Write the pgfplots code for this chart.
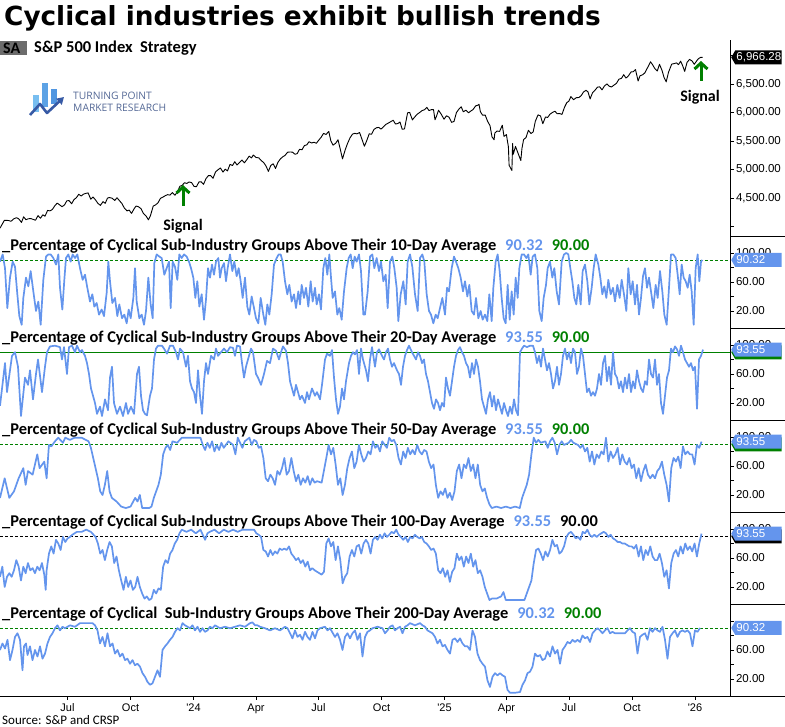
\documentclass[border=0pt]{standalone}
\usepackage{fontspec}
\setmainfont{Carlito}
\newfontfamily\titlefont{DejaVu Sans}
\newfontfamily\tickfont{Liberation Sans}
\newfontfamily\logofont{Open Sans}
\usepackage{pgfplots}
\pgfplotsset{compat=1.18}
\usetikzlibrary{arrows.meta,shapes.symbols}
\definecolor{cblue}{RGB}{100,149,237}
\definecolor{sgreen}{RGB}{0,128,0}
\definecolor{logoblue}{RGB}{85,105,150}
\definecolor{barA}{RGB}{120,190,240}
\definecolor{barB}{RGB}{80,150,225}
\definecolor{arrowblue}{RGB}{55,90,165}

\pgfplotsset{
  panel/.style={
    scale only axis, width=730pt, height=92pt, anchor=south west,
    xmin=0, axis y line*=right,
    ymin=-3.45, ymax=123.4,
    ytick={20,40,60,80,100}, yticklabels={20.00,,60.00,,100.00},
    tick align=outside, major tick length=4pt,
    yticklabel style={font=\tickfont\fontsize{11.5}{12}\selectfont, xshift=-1.5pt},
    axis line style={black, line width=0.8pt},
    every tick/.style={black, line width=0.8pt},
  },
  upper/.style={axis x line=none, xtick=\empty},
  pline/.style={cblue, line width=1.7pt, line join=round},
  gdash/.style={sgreen, line width=0.8pt, dash pattern=on 3pt off 2pt},
}
\tikzset{
  tag/.style={signal, signal to=west, signal pointer angle=120, minimum height=14pt,
    text width=44pt, inner sep=1.2pt, text=white, align=left,
    font=\tickfont\fontsize{11.5}{12}\selectfont, anchor=west},
  ptitle/.style={anchor=west, font=\fontsize{16.4}{17}\selectfont\bfseries, inner sep=0pt},
}

\begin{document}
\begin{tikzpicture}[x=1pt,y=1pt]
\path[use as bounding box] (0,0) rectangle (785,727);

% ---------------- S&P 500 panel ----------------
\begin{axis}[scale only axis, width=730pt, height=196pt, at={(0pt,491pt)}, anchor=south west,
  xmin=0, xmax=730, ymin=3833.3, ymax=7272,
  axis x line=none, xtick=\empty, axis y line*=right,
  ytick={4000,4500,5000,5500,6000,6500,7000},
  yticklabels={{},{4,500.00},{5,000.00},{5,500.00},{6,000.00},{6,500.00},{}},
  tick align=outside, major tick length=4pt,
  yticklabel style={font=\tickfont\fontsize{11.5}{12}\selectfont, xshift=-1.5pt},
  axis line style={black, line width=0.8pt},
  every tick/.style={black, line width=0.8pt}]
\addplot[black, line width=0.9pt, line join=round] table[row sep=\\]{x y\\
0 3971\\ 4.4 4109\\ 8.5 4105\\ 11 4091\\ 14 4137\\ 16.5 4154\\ 18.8 4133\\ 21.5 4071\\ 23.6 4169\\ 26 4119\\
28.4 4136\\ 31 4138\\ 33.2 4124\\ 35.5 4110\\ 38 4191\\ 40.5 4145\\ 42.8 4205\\ 45 4180\\ 47.6 4282\\ 50 4274\\
52.4 4299\\ 55 4369\\ 57.2 4410\\ 59.5 4381\\ 62 4348\\ 64.5 4378\\ 66.8 4450\\ 69 4455\\ 71.6 4399\\ 74 4472\\
76.4 4505\\ 78.7 4565\\ 81.2 4536\\ 83.5 4567\\ 86 4582\\ 88.1 4589\\ 90.8 4478\\ 93 4518\\ 95.6 4464\\ 98 4404\\
100.4 4370\\ 103 4436\\ 105.2 4406\\ 107.5 4498\\ 109.3 4508\\ 112 4497\\ 114.8 4457\\ 117 4505\\ 119.6 4450\\ 122 4402\\
124.4 4320\\ 127 4274\\ 129.2 4288\\ 131.5 4229\\ 134 4308\\ 136 4358\\ 138.1 4350\\ 141 4314\\ 143.6 4224\\ 146 4186\\
148.4 4117\\ 150.5 4193\\ 153.2 4358\\ 155.5 4378\\ 158 4415\\ 160.5 4495\\ 162.8 4514\\ 165 4538\\ 167.6 4559\\ 170 4550\\
172.4 4595\\ 175 4549\\ 177.2 4604\\ 180 4708\\ 182 4719\\ 184.5 4768\\ 186.8 4755\\ 189 4781\\ 191.6 4770\\ 194 4704\\
196.4 4697\\ 199 4783\\ 201.2 4784\\ 203.5 4739\\ 206 4840\\ 208.5 4894\\ 210.8 4891\\ 213 4845\\ 215.6 4959\\ 218 4995\\
220.4 5027\\ 223 4953\\ 225.2 5006\\ 227.5 4975\\ 230 5089\\ 232.5 5070\\ 234.8 5137\\ 237 5079\\ 239.6 5124\\ 242 5165\\
244.4 5117\\ 247 5178\\ 249.2 5234\\ 251.5 5203\\ 253.3 5254\\ 256 5211\\ 258.8 5204\\ 261 5160\\ 263.6 5123\\ 266 5061\\
268.4 4967\\ 270.8 5071\\ 273.2 5100\\ 275.5 5018\\ 278 5128\\ 280.5 5188\\ 282.8 5223\\ 285 5247\\ 287.6 5303\\ 290 5307\\
292.4 5305\\ 295 5267\\ 297.2 5278\\ 299.5 5354\\ 302 5347\\ 304.5 5421\\ 306.8 5432\\ 309 5487\\ 311.6 5465\\ 314 5478\\
316.4 5460\\ 318.5 5509\\ 321.2 5567\\ 323.5 5633\\ 326 5615\\ 328.8 5667\\ 330.8 5505\\ 333 5427\\ 335.6 5459\\ 338 5522\\
340.4 5346\\ 342.5 5186\\ 345.2 5344\\ 347.5 5455\\ 350 5554\\ 352.5 5621\\ 354.8 5634\\ 357 5625\\ 359.6 5648\\ 362 5528\\
364.4 5408\\ 366.5 5495\\ 369.2 5626\\ 371.5 5618\\ 374 5703\\ 376.5 5733\\ 378.8 5738\\ 381 5709\\ 383.6 5751\\ 386 5792\\
388.4 5815\\ 391 5842\\ 393.2 5864\\ 395.5 5797\\ 398 5808\\ 400 5833\\ 402.2 5705\\ 404.5 5712\\ 407.6 5995\\ 409.7 6001\\
412.4 5870\\ 414.5 5917\\ 417.2 5969\\ 419.5 5998\\ 422 6032\\ 424.5 6049\\ 426.8 6090\\ 429 6034\\ 431.6 6051\\ 433.5 6050\\
435 5872\\ 436.4 5930\\ 438.5 6040\\ 441.2 5971\\ 444 5882\\ 446.5 5942\\ 449 5918\\ 451.6 5827\\ 454 5843\\ 456.4 5997\\
458.5 6050\\ 461.2 6101\\ 463.3 6012\\ 466 6041\\ 468.5 5994\\ 470.8 6026\\ 473 6051\\ 475.6 6115\\ 478 6129\\ 479 6144\\
480.4 6013\\ 482.5 5955\\ 485.2 5955\\ 487.5 5849\\ 490 5770\\ 492 5572\\ 494.1 5521\\ 494.8 5639\\ 497 5675\\ 499.6 5668\\
502.3 5777\\ 504 5581\\ 506.4 5612\\ 508.4 5397\\ 509.1 5074\\ 511.9 4982\\ 512.6 5457\\ 513.3 5268\\ 515.5 5405\\ 518.1 5283\\
520.8 5158\\ 522 5375\\ 523.6 5525\\ 526 5560\\ 528.4 5687\\ 531 5631\\ 533.2 5660\\ 535.3 5844\\ 538 5958\\ 540.5 5940\\
542.8 5803\\ 545.5 5922\\ 547.6 5912\\ 550 5970\\ 552.4 6000\\ 555 6022\\ 557.2 5977\\ 559.5 5982\\ 562 5967\\ 564.5 6092\\
566.8 6173\\ 568.8 6198\\ 570.9 6279\\ 573.5 6225\\ 576.4 6260\\ 579 6263\\ 581.2 6297\\ 583.5 6359\\ 586 6389\\ 588 6362\\
590.1 6238\\ 592.5 6345\\ 594.9 6389\\ 597.5 6445\\ 599.7 6450\\ 602 6396\\ 604.5 6467\\ 607 6502\\ 609.3 6460\\ 611.5 6448\\
614.1 6482\\ 616.5 6512\\ 618.9 6584\\ 621.5 6600\\ 623.7 6664\\ 626 6604\\ 628.5 6644\\ 631 6711\\ 633.3 6716\\ 635.5 6753\\
638.1 6552\\ 640 6644\\ 642.9 6664\\ 645 6699\\ 647.7 6792\\ 650.5 6890\\ 652.5 6840\\ 654.8 6771\\ 657.3 6729\\ 659.5 6846\\
662.1 6734\\ 664 6617\\ 666.2 6538\\ 668.5 6705\\ 671.7 6849\\ 674 6857\\ 676.5 6870\\ 678.5 6840\\ 680.6 6901\\ 682.5 6827\\
684.7 6721\\ 687 6878\\ 689.5 6932\\ 692 6905\\ 694.3 6845\\ 696.5 6902\\ 698.4 6944\\ 700.5 6966\\ 702.6 6966.28\\
};
\end{axis}

% ---------------- 10-day ----------------
\begin{axis}[panel, upper, at={(0pt,399pt)}, xmax=2190]
\addplot[gdash] coordinates {(0,90) (2190,90)};
\addplot[pline] table[row sep=\\]{x y\\
0 88\\ 8 98\\ 15 79\\ 22 24\\ 30 66\\ 38 88\\ 45 81\\ 52 43\\ 58 13\\ 65 1\\ 70 38\\ 78 66\\ 85 54\\ 92 75\\ 100 47\\
108 20\\ 115 33\\ 122 1\\ 130 63\\ 138 95\\ 145 98\\ 152 98\\ 160 93\\ 168 84\\ 175 98\\ 180 52\\ 187 22\\ 193 63\\ 198 93\\
205 98\\ 212 88\\ 218 98\\ 225 93\\ 232 98\\ 240 79\\ 248 63\\ 255 70\\ 262 52\\ 270 33\\ 277 43\\ 283 26\\ 290 31\\ 297 15\\
305 22\\ 312 13\\ 320 45\\ 325 88\\ 330 61\\ 337 31\\ 345 38\\ 352 13\\ 358 29\\ 366 10\\ 373 15\\ 380 3\\ 386 22\\ 392 10\\
400 38\\ 405 79\\ 410 33\\ 418 10\\ 425 15\\ 432 1\\ 438 20\\ 445 66\\ 452 29\\ 458 10\\ 463 86\\ 470 98\\ 478 95\\ 485 93\\
493 70\\ 500 79\\ 507 88\\ 512 24\\ 518 88\\ 525 81\\ 532 63\\ 538 98\\ 545 93\\ 552 98\\ 560 95\\ 567 88\\ 573 79\\ 580 66\\
586 38\\ 592 61\\ 598 26\\ 605 43\\ 612 8\\ 618 36\\ 624 79\\ 630 66\\ 636 84\\ 642 70\\ 648 88\\ 655 93\\ 660 66\\ 665 79\\
672 86\\ 678 61\\ 683 79\\ 690 98\\ 697 75\\ 703 88\\ 710 68\\ 716 79\\ 722 61\\ 728 38\\ 735 66\\ 742 26\\ 748 15\\ 755 40\\
762 24\\ 768 10\\ 775 3\\ 782 38\\ 790 15\\ 796 1\\ 802 29\\ 808 15\\ 815 43\\ 822 84\\ 830 93\\ 836 98\\ 842 98\\ 848 88\\
855 61\\ 862 43\\ 868 56\\ 875 33\\ 882 43\\ 888 24\\ 895 47\\ 900 29\\ 905 56\\ 912 38\\ 918 52\\ 925 26\\ 932 61\\ 938 33\\
945 52\\ 950 29\\ 957 43\\ 963 22\\ 970 79\\ 976 93\\ 982 70\\ 988 98\\ 993 66\\ 998 38\\ 1005 47\\ 1012 15\\ 1018 24\\ 1025 8\\
1032 47\\ 1040 79\\ 1046 93\\ 1052 98\\ 1058 79\\ 1064 95\\ 1070 88\\ 1077 98\\ 1083 75\\ 1090 15\\
1095 15\\ 1103 47\\ 1110 95\\ 1117 98\\ 1123 79\\ 1130 93\\ 1137 75\\ 1143 88\\ 1150 61\\ 1157 70\\ 1163 24\\ 1170 88\\ 1177 95\\
1183 79\\ 1190 52\\ 1195 6\\ 1202 43\\ 1210 61\\ 1217 29\\ 1223 88\\ 1230 98\\ 1237 81\\ 1245 43\\ 1253 20\\ 1260 93\\ 1267 98\\
1273 88\\ 1280 43\\ 1287 20\\ 1293 15\\ 1300 3\\ 1307 15\\ 1313 10\\ 1320 24\\ 1327 38\\ 1335 15\\ 1341 52\\ 1347 47\\ 1355 79\\
1362 95\\ 1368 88\\ 1375 79\\ 1382 66\\ 1389 47\\ 1395 61\\ 1402 40\\ 1408 56\\ 1415 20\\ 1422 15\\ 1428 38\\ 1435 10\\ 1442 20\\
1448 8\\ 1455 15\\ 1462 6\\ 1468 43\\ 1475 6\\ 1480 52\\ 1487 88\\ 1493 98\\ 1499 75\\ 1505 38\\ 1511 10\\ 1517 3\\ 1523 56\\
1529 8\\ 1535 47\\ 1541 15\\ 1547 66\\ 1553 38\\ 1558 79\\ 1565 98\\ 1572 98\\ 1579 93\\ 1585 98\\ 1592 70\\ 1598 95\\ 1605 98\\
1612 79\\ 1618 20\\ 1625 6\\ 1631 38\\ 1638 56\\ 1643 79\\ 1650 88\\ 1657 66\\ 1663 79\\ 1670 47\\ 1677 29\\ 1685 88\\ 1692 98\\
1699 100\\ 1705 98\\ 1711 79\\ 1717 61\\ 1723 38\\ 1729 29\\ 1735 56\\ 1742 29\\ 1748 75\\ 1755 84\\ 1762 61\\ 1768 29\\ 1775 52\\
1781 79\\ 1787 98\\ 1795 84\\ 1801 66\\ 1807 43\\ 1813 54\\ 1819 38\\ 1825 63\\ 1832 43\\ 1839 52\\ 1845 33\\ 1852 56\\ 1859 38\\
1865 63\\ 1872 43\\ 1879 20\\ 1885 79\\ 1892 43\\ 1898 61\\ 1905 29\\ 1911 56\\ 1917 15\\ 1923 38\\ 1929 68\\ 1935 79\\ 1941 52\\
1947 66\\ 1953 47\\ 1960 24\\ 1967 56\\ 1973 38\\ 1980 75\\ 1987 47\\ 1993 15\\ 2000 1\\ 2007 52\\ 2013 98\\ 2020 98\\ 2027 93\\
2033 70\\ 2039 43\\ 2045 84\\ 2051 66\\ 2057 61\\ 2063 52\\ 2069 70\\ 2075 47\\ 2081 1\\ 2087 79\\ 2093 98\\ 2098 61\\ 2103 88\\
2107 90.32\\
};
\end{axis}

% ---------------- 20-day ----------------
\begin{axis}[panel, upper, at={(0pt,307pt)}, xmax=730]
\addplot[sgreen, line width=0.9pt] coordinates {(0,90) (730,90)};
\addplot[pline] table[row sep=\\]{x y\\
0 16\\ 5 75\\ 7 35\\ 12 85\\ 15 90\\ 18 70\\ 21 2\\ 25 55\\ 28 45\\ 30 65\\ 33 25\\ 36 60\\ 38 80\\ 42 35\\ 45 70\\ 47 90\\
50 98\\ 55 99\\ 60 97\\ 62 80\\ 64 97\\ 67 60\\ 69 97\\ 72 99\\ 75 90\\ 77 99\\ 80 90\\ 82 93\\ 85 85\\ 87 75\\ 89 60\\ 91 40\\
93 30\\ 95 20\\ 97 5\\ 100 15\\ 102 2\\ 105 25\\ 108 10\\ 110 55\\ 112 70\\ 114 20\\ 117 5\\ 120 15\\ 123 2\\ 126 20\\ 128 5\\
131 15\\ 134 5\\ 137 60\\ 139 70\\ 141 30\\ 143 10\\ 145 5\\ 147 3\\ 150 30\\ 152 40\\ 154 80\\ 156 95\\ 158 99\\ 162 99\\
164 95\\ 167 88\\ 170 99\\ 173 99\\ 176 90\\ 178 80\\ 180 95\\ 183 90\\ 186 70\\ 188 85\\ 190 50\\ 192 40\\ 194 35\\ 196 20\\
198 65\\ 200 30\\ 202 5\\ 204 50\\ 206 75\\ 208 60\\ 211 85\\ 214 80\\ 216 95\\ 218 85\\ 221 90\\ 224 95\\ 227 90\\ 230 97\\
233 96\\ 235 85\\ 237 99\\ 240 98\\ 242 75\\ 244 55\\ 246 70\\ 248 80\\ 251 95\\ 253 90\\ 256 60\\ 258 55\\ 261 45\\ 264 60\\
267 78\\ 270 75\\ 273 95\\ 276 92\\ 279 80\\ 281 90\\ 283 98\\ 286 92\\ 288 75\\ 290 50\\ 292 40\\ 294 30\\ 296 45\\ 298 35\\
300 25\\ 302 30\\ 305 20\\ 307 35\\ 309 25\\ 312 40\\ 315 30\\ 317 35\\ 320 25\\ 322 45\\ 325 80\\ 327 88\\ 330 85\\ 332 93\\
334 55\\ 336 25\\ 338 5\\ 340 15\\ 342 40\\ 344 25\\ 346 50\\ 349 75\\ 351 85\\ 353 90\\ 355 87\\ 357 93\\ 359 60\\ 361 95\\
363 80\\ 366 65\\ 368 50\\ 370 80\\ 372 97\\ 375 70\\ 377 90\\ 379 94\\ 382 85\\ 384 80\\ 386 90\\ 388 95\\ 390 80\\ 392 70\\
394 75\\ 397 65\\ 399 60\\ 401 45\\ 403 70\\ 405 85\\ 407 93\\ 409 99\\ 412 90\\ 414 85\\ 416 80\\ 418 90\\ 420 85\\ 422 75\\
424 80\\ 426 60\\ 428 50\\ 430 35\\ 432 20\\ 434 12\\ 436 25\\ 438 20\\ 440 10\\ 442 20\\ 444 15\\ 446 55\\ 448 40\\ 450 30\\
452 50\\ 454 70\\ 456 85\\ 458 93\\ 460 97\\ 462 90\\ 464 85\\ 466 75\\ 468 70\\ 470 55\\ 472 75\\ 474 60\\ 476 80\\ 478 70\\
480 50\\ 482 25\\ 484 15\\ 486 5\\ 488 25\\ 490 35\\ 492 15\\ 494 30\\ 496 10\\ 498 25\\ 500 15\\ 502 5\\ 504 20\\ 506 10\\
508 2\\ 510 15\\ 512 5\\ 514 25\\ 516 10\\ 518 3\\ 520 90\\ 522 95\\ 524 99\\ 527 97\\ 530 99\\ 533 99\\ 535 90\\ 537 75\\
539 85\\ 541 70\\ 543 95\\ 545 80\\ 547 65\\ 549 75\\ 551 60\\ 553 40\\ 555 50\\ 557 70\\ 559 45\\ 561 60\\ 563 85\\ 565 95\\
567 80\\ 569 90\\ 571 75\\ 573 95\\ 575 90\\ 577 60\\ 579 70\\ 581 95\\ 583 85\\ 585 60\\ 587 35\\ 589 40\\ 591 30\\ 593 35\\
595 30\\ 597 40\\ 599 60\\ 601 45\\ 603 75\\ 605 85\\ 607 50\\ 609 70\\ 611 45\\ 613 90\\ 615 60\\ 617 55\\ 619 40\\ 621 50\\
623 35\\ 625 55\\ 627 40\\ 629 60\\ 631 35\\ 633 50\\ 635 40\\ 637 65\\ 639 50\\ 641 40\\ 643 35\\ 645 50\\ 647 45\\ 649 80\\
651 60\\ 653 55\\ 655 80\\ 657 45\\ 659 60\\ 661 20\\ 663 5\\ 665 30\\ 667 55\\ 669 65\\ 671 95\\ 673 90\\ 675 98\\ 677 94\\
679 85\\ 681 99\\ 683 90\\ 685 80\\ 687 75\\ 689 70\\ 691 75\\ 693 65\\ 695 70\\ 697 12\\ 699 80\\ 701 85\\ 703 93.55\\
};
\end{axis}

% ---------------- 50-day ----------------
\begin{axis}[panel, upper, at={(0pt,215pt)}, xmax=1566]
\addplot[gdash] coordinates {(0,90) (1566,90)};
\addplot[pline] table[row sep=\\]{x y\\
0 16\\ 10 43\\ 20 16\\ 30 25\\ 40 43\\ 50 57\\ 55 34\\ 60 53\\ 70 48\\ 80 76\\ 85 57\\ 95 66\\ 100 43\\ 105 89\\ 110 87\\
118 94\\ 125 99\\ 135 92\\ 140 99\\ 150 96\\ 160 99\\ 175 99\\ 190 94\\ 195 85\\ 200 71\\ 210 43\\ 215 25\\ 220 20\\ 225 34\\
230 53\\ 235 25\\ 240 16\\ 250 11\\ 260 4\\ 270 2\\ 280 4\\ 290 16\\ 295 11\\ 300 20\\ 305 2\\ 320 2\\ 325 4\\ 330 16\\ 335 25\\
340 34\\ 345 48\\ 350 76\\ 355 85\\ 360 89\\ 365 82\\ 370 94\\ 380 92\\ 390 99\\ 400 99\\ 420 99\\ 430 99\\ 435 89\\ 440 82\\
445 92\\ 450 85\\ 455 94\\ 460 80\\ 465 89\\ 470 82\\ 475 92\\ 480 85\\ 490 94\\ 500 89\\ 505 76\\ 510 99\\ 520 85\\ 525 94\\
535 99\\ 540 89\\ 545 96\\ 550 94\\ 555 85\\ 560 87\\ 565 71\\ 570 43\\ 575 39\\ 580 48\\ 585 43\\ 590 34\\ 595 53\\ 600 48\\
605 57\\ 610 71\\ 615 48\\ 620 53\\ 625 71\\ 630 53\\ 635 39\\ 640 48\\ 645 34\\ 650 43\\ 655 37\\ 660 46\\ 665 34\\ 670 43\\
675 37\\ 680 39\\ 690 37\\ 700 71\\ 705 89\\ 710 76\\ 715 85\\ 720 62\\ 725 34\\ 730 43\\ 735 20\\ 740 34\\ 745 57\\ 750 71\\
755 80\\ 760 57\\ 765 66\\ 770 89\\ 775 76\\ 780 66\\ 785 71\\ 790 80\\ 795 76\\ 800 94\\ 805 85\\ 810 89\\ 815 80\\ 820 94\\
830 85\\ 835 99\\ 840 94\\ 845 96\\ 850 89\\ 855 71\\ 860 62\\ 865 80\\ 870 71\\ 875 85\\ 880 76\\ 885 82\\ 890 76\\ 895 89\\
900 80\\ 905 76\\ 910 82\\ 915 80\\ 920 66\\ 925 57\\ 930 62\\ 935 34\\ 940 16\\ 945 25\\ 950 20\\ 955 29\\ 960 16\\ 965 23\\
970 13\\ 975 25\\ 980 53\\ 985 62\\ 990 43\\ 995 62\\ 1000 57\\ 1005 71\\ 1010 53\\ 1015 62\\ 1020 43\\ 1025 62\\ 1030 34\\
1035 25\\ 1040 29\\ 1045 16\\ 1050 7\\ 1055 2\\ 1065 4\\ 1075 2\\ 1085 4\\ 1095 2\\ 1105 4\\ 1115 2\\ 1120 16\\ 1125 25\\
1130 34\\ 1135 48\\ 1140 76\\ 1145 99\\ 1150 92\\ 1155 96\\ 1160 92\\ 1170 94\\ 1175 85\\ 1180 94\\ 1185 99\\ 1190 92\\
1195 76\\ 1200 89\\ 1205 94\\ 1210 89\\ 1220 92\\ 1225 96\\ 1230 92\\ 1240 89\\ 1245 85\\ 1250 89\\ 1255 80\\ 1260 85\\
1265 66\\ 1270 80\\ 1275 62\\ 1280 76\\ 1285 71\\ 1290 80\\ 1295 76\\ 1300 99\\ 1305 66\\ 1310 80\\ 1315 71\\ 1320 76\\
1325 85\\ 1330 62\\ 1335 76\\ 1340 66\\ 1345 62\\ 1350 71\\ 1355 57\\ 1360 62\\ 1365 43\\ 1370 57\\ 1375 39\\ 1380 53\\
1385 62\\ 1390 48\\ 1395 43\\ 1400 48\\ 1405 43\\ 1410 53\\ 1415 57\\ 1420 66\\ 1425 48\\ 1430 34\\ 1435 11\\ 1440 57\\
1445 71\\ 1450 66\\ 1455 73\\ 1460 57\\ 1465 87\\ 1470 76\\ 1475 80\\ 1480 76\\ 1485 76\\ 1490 62\\ 1495 89\\ 1500 85\\
1505 93.55\\
};
\end{axis}

% ---------------- 100-day ----------------
\begin{axis}[panel, upper, at={(0pt,123pt)}, xmax=1566]
\addplot[black, line width=0.8pt, dash pattern=on 3pt off 2pt] coordinates {(0,90) (1566,90)};
\addplot[pline] table[row sep=\\]{x y\\
0 34\\ 5 48\\ 10 20\\ 15 34\\ 20 39\\ 25 34\\ 30 43\\ 35 57\\ 40 48\\ 45 29\\ 50 48\\ 55 39\\ 60 53\\ 65 43\\ 70 46\\ 75 39\\
80 48\\ 85 43\\ 90 53\\ 95 37\\ 98 16\\ 100 43\\ 105 66\\ 110 76\\ 115 66\\ 120 85\\ 125 80\\ 130 71\\ 135 89\\ 140 82\\
145 87\\ 150 89\\ 155 92\\ 160 94\\ 165 96\\ 175 96\\ 185 99\\ 195 96\\ 205 89\\ 210 80\\ 215 66\\ 220 71\\ 225 57\\ 230 71\\
235 82\\ 240 76\\ 245 53\\ 250 62\\ 255 43\\ 260 29\\ 265 16\\ 270 34\\ 275 20\\ 280 29\\ 285 16\\ 290 20\\ 295 34\\ 300 20\\
305 11\\ 310 4\\ 315 7\\ 320 2\\ 325 4\\ 330 16\\ 335 11\\ 340 18\\ 345 16\\ 350 48\\ 355 57\\ 360 53\\ 365 66\\ 370 71\\
375 80\\ 380 85\\ 385 94\\ 390 99\\ 400 96\\ 410 99\\ 420 94\\ 430 99\\ 440 85\\ 445 94\\ 450 96\\ 460 99\\ 470 94\\ 480 99\\
490 96\\ 500 99\\ 510 96\\ 520 99\\ 530 99\\ 545 99\\ 550 94\\ 555 92\\ 560 89\\ 565 71\\ 570 69\\ 575 62\\ 580 71\\ 585 64\\
590 69\\ 595 66\\ 600 73\\ 605 71\\ 610 73\\ 615 71\\ 620 76\\ 625 66\\ 630 62\\ 635 57\\ 640 60\\ 645 53\\ 650 57\\ 655 48\\
660 55\\ 665 43\\ 670 46\\ 675 43\\ 680 41\\ 685 39\\ 690 37\\ 695 41\\ 700 80\\ 705 87\\ 710 76\\ 715 82\\ 720 57\\ 725 76\\
730 57\\ 735 25\\ 740 34\\ 745 39\\ 750 62\\ 755 71\\ 760 62\\ 765 76\\ 770 78\\ 775 66\\ 780 80\\ 785 85\\ 790 80\\ 795 66\\
800 85\\ 805 89\\ 810 85\\ 815 92\\ 820 87\\ 825 94\\ 830 89\\ 835 92\\ 840 96\\ 845 94\\ 850 99\\ 855 92\\ 860 89\\ 865 85\\
870 89\\ 875 82\\ 880 89\\ 885 87\\ 890 92\\ 895 89\\ 900 87\\ 905 89\\ 910 82\\ 915 80\\ 920 76\\ 925 71\\ 930 73\\ 935 66\\
940 43\\ 945 39\\ 950 46\\ 955 34\\ 960 43\\ 965 27\\ 970 41\\ 975 46\\ 980 66\\ 985 57\\ 990 62\\ 995 48\\ 1000 62\\ 1005 53\\
1010 66\\ 1015 48\\ 1020 57\\ 1025 39\\ 1030 43\\ 1035 34\\ 1040 20\\ 1045 11\\ 1050 2\\ 1055 4\\ 1065 4\\ 1075 7\\ 1080 13\\
1085 2\\ 1095 2\\ 1105 2\\ 1115 2\\ 1125 2\\ 1130 11\\ 1135 20\\ 1140 29\\ 1145 53\\ 1150 71\\ 1155 73\\ 1160 66\\ 1165 57\\
1170 69\\ 1175 62\\ 1180 71\\ 1185 85\\ 1190 76\\ 1195 78\\ 1200 66\\ 1205 69\\ 1210 76\\ 1215 89\\ 1220 94\\ 1225 96\\
1230 92\\ 1235 87\\ 1240 89\\ 1245 85\\ 1250 96\\ 1255 94\\ 1260 99\\ 1265 92\\ 1270 89\\ 1275 92\\ 1280 89\\ 1285 92\\
1290 94\\ 1295 96\\ 1300 94\\ 1305 89\\ 1310 92\\ 1315 87\\ 1320 85\\ 1325 82\\ 1330 82\\ 1335 80\\ 1340 80\\ 1345 78\\
1350 76\\ 1355 76\\ 1360 73\\ 1365 78\\ 1370 62\\ 1375 76\\ 1380 57\\ 1385 71\\ 1390 64\\ 1395 76\\ 1400 62\\ 1405 57\\
1410 57\\ 1415 66\\ 1420 53\\ 1425 34\\ 1430 43\\ 1435 18\\ 1440 53\\ 1445 66\\ 1450 71\\ 1455 62\\ 1460 76\\ 1465 66\\
1470 80\\ 1475 71\\ 1480 76\\ 1485 69\\ 1490 80\\ 1495 62\\ 1500 80\\ 1505 93.55\\
};
\end{axis}

% ---------------- 200-day ----------------
\begin{axis}[panel, at={(0pt,31pt)}, xmax=1460,
  yticklabels={20.00,,60.00,,},
  axis x line*=bottom,
  xtick={135,261,387,512,637,763,889,1013,1138,1264,1390},
  xticklabels={Jul,Oct,{'24},Apr,Jul,Oct,{'25},Apr,Jul,Oct,{'26}},
  xticklabel style={font=\tickfont\fontsize{11}{12}\selectfont},
  xtick style={black, line width=0.8pt}]
\addplot[gdash] coordinates {(0,90) (1460,90)};
\addplot[pline] table[row sep=\\]{x y\\
0 60\\ 5 69\\ 10 62\\ 15 74\\ 20 46\\ 25 60\\ 30 78\\ 35 83\\ 40 74\\ 45 32\\ 48 65\\ 52 69\\ 55 53\\ 60 65\\ 65 46\\ 70 60\\
75 51\\ 80 65\\ 85 48\\ 90 55\\ 95 69\\ 100 78\\ 105 83\\ 110 90\\ 115 94\\ 120 87\\ 125 92\\ 130 90\\ 140 94\\ 150 92\\
160 97\\ 175 97\\ 185 97\\ 190 94\\ 195 87\\ 200 69\\ 205 78\\ 210 65\\ 215 83\\ 220 65\\ 225 69\\ 230 55\\ 235 60\\ 240 51\\
245 55\\ 250 46\\ 255 48\\ 260 41\\ 265 46\\ 270 39\\ 275 41\\ 280 37\\ 285 28\\ 290 23\\ 295 16\\ 300 12\\ 305 14\\ 310 23\\
315 32\\ 320 23\\ 325 60\\ 330 65\\ 335 69\\ 340 74\\ 345 78\\ 350 85\\ 355 90\\ 360 87\\ 365 97\\ 370 94\\ 375 92\\ 380 90\\
385 94\\ 390 87\\ 395 92\\ 400 85\\ 405 90\\ 410 85\\ 415 87\\ 420 92\\ 425 90\\ 430 94\\ 440 90\\ 450 92\\ 460 90\\ 470 92\\
480 94\\ 490 92\\ 500 97\\ 505 98\\ 510 94\\ 515 94\\ 520 92\\ 530 90\\ 540 87\\ 550 90\\ 560 87\\ 570 92\\ 575 90\\ 580 83\\
585 76\\ 590 87\\ 595 78\\ 600 81\\ 605 74\\ 610 85\\ 615 78\\ 620 74\\ 625 85\\ 630 76\\ 635 87\\ 640 90\\ 650 92\\ 655 87\\
660 90\\ 670 78\\ 675 83\\ 680 74\\ 685 60\\ 690 78\\ 695 83\\ 700 76\\ 705 83\\ 710 87\\ 715 74\\ 720 83\\ 725 51\\ 730 78\\
735 85\\ 740 87\\ 745 90\\ 755 92\\ 765 90\\ 770 83\\ 775 87\\ 780 92\\ 785 94\\ 790 87\\ 795 90\\ 800 92\\ 805 83\\ 810 92\\
815 94\\ 820 97\\ 830 94\\ 840 97\\ 845 94\\ 850 92\\ 855 87\\ 860 85\\ 865 83\\ 870 78\\ 875 69\\ 880 74\\ 885 65\\ 890 67\\
895 60\\ 900 55\\ 905 74\\ 910 76\\ 915 71\\ 920 76\\ 925 69\\ 930 65\\ 935 65\\ 940 60\\ 945 87\\ 950 78\\ 955 55\\ 960 46\\
965 41\\ 970 37\\ 975 18\\ 980 9\\ 985 23\\ 990 28\\ 995 25\\ 1000 28\\ 1005 25\\ 1010 23\\ 1015 5\\ 1020 1\\ 1030 1\\ 1040 2\\
1045 12\\ 1050 18\\ 1055 28\\ 1060 30\\ 1065 37\\ 1070 55\\ 1075 51\\ 1080 53\\ 1085 46\\ 1090 48\\ 1095 58\\ 1100 51\\
1105 65\\ 1110 55\\ 1115 60\\ 1120 41\\ 1125 60\\ 1130 65\\ 1135 71\\ 1140 69\\ 1145 74\\ 1150 71\\ 1155 74\\ 1160 71\\
1165 80\\ 1170 76\\ 1175 78\\ 1180 71\\ 1185 83\\ 1190 87\\ 1195 90\\ 1200 87\\ 1205 83\\ 1210 87\\ 1215 90\\ 1220 83\\
1225 85\\ 1230 83\\ 1240 83\\ 1250 83\\ 1255 87\\ 1260 90\\ 1265 85\\ 1270 83\\ 1275 55\\ 1280 78\\ 1285 81\\ 1290 83\\
1295 74\\ 1300 90\\ 1305 85\\ 1310 90\\ 1315 87\\ 1320 85\\ 1325 92\\ 1330 74\\ 1335 48\\ 1340 78\\ 1345 83\\ 1350 87\\
1355 78\\ 1360 85\\ 1365 87\\ 1370 85\\ 1375 87\\ 1380 83\\ 1385 65\\ 1390 87\\ 1395 85\\ 1400 90.32\\
};
\end{axis}

% ---------------- decorations (pixel coordinates, y downwards) ----------------
\begin{scope}[shift={(0,727)}, yscale=-1]
  % title
  \node[anchor=west, inner sep=0pt, font=\titlefont\bfseries\fontsize{26.3}{28}\selectfont] at (4,18) {Cyclical industries exhibit bullish trends};
  % SA label
  \fill[gray!85!black] (0,41) rectangle (27,55);
  \node[anchor=west, inner sep=0pt, font=\fontsize{16}{17}\selectfont\bfseries] at (3,48) {SA};
  \node[anchor=west, inner sep=0pt, font=\fontsize{16.5}{17}\selectfont\bfseries] at (34,48) {S\&P 500 Index\ \ Strategy};
  % logo
  \fill[barA] (33,95) rectangle (39,112);
  \fill[barB!70!barA] (42,83) rectangle (48,107);
  \fill[barB] (51,89) rectangle (57,104);
  \draw[arrowblue, line width=2.6pt, line join=round, -{Triangle[length=7pt,width=8pt]}] (30,115) -- (40,104) -- (47,113) -- (64,97);
  \node[anchor=west, inner sep=0pt, text=logoblue, font=\logofont\fontsize{10.3}{11}\selectfont] at (73,96) {TURNING POINT};
  \node[anchor=west, inner sep=0pt, text=logoblue, font=\logofont\fontsize{10.3}{11}\selectfont] at (73,108) {MARKET RESEARCH};
  % signals
  \draw[sgreen, line width=3pt, -{Straight Barb[length=6pt,width=13pt]}] (183,206) -- (183,185);
  \node[inner sep=0pt, font=\fontsize{16}{17}\selectfont\bfseries] at (183,226) {Signal};
  \draw[sgreen, line width=3pt, -{Straight Barb[length=6pt,width=13pt]}] (701,81) -- (701,61);
  \node[inner sep=0pt, font=\fontsize{16}{17}\selectfont\bfseries] at (700,97) {Signal};
  % panel titles
  \node[ptitle] at (2,246) {\_Percentage of Cyclical Sub-Industry Groups Above Their 10-Day Average\hspace{9pt}\textcolor{cblue}{90.32}\hspace{9pt}\textcolor{sgreen}{90.00}};
  \node[ptitle] at (2,338) {\_Percentage of Cyclical Sub-Industry Groups Above Their 20-Day Average\hspace{9pt}\textcolor{cblue}{93.55}\hspace{9pt}\textcolor{sgreen}{90.00}};
  \node[ptitle] at (2,430) {\_Percentage of Cyclical Sub-Industry Groups Above Their 50-Day Average\hspace{9pt}\textcolor{cblue}{93.55}\hspace{9pt}\textcolor{sgreen}{90.00}};
  \node[ptitle] at (2,522) {\_Percentage of Cyclical Sub-Industry Groups Above Their 100-Day Average\hspace{9pt}\textcolor{cblue}{93.55}\hspace{9pt}90.00};
  \node[ptitle] at (2,614) {\_Percentage of Cyclical\ \ Sub-Industry Groups Above Their 200-Day Average\hspace{9pt}\textcolor{cblue}{90.32}\hspace{9pt}\textcolor{sgreen}{90.00}};
  % right-hand separators
  \foreach \yy in {236,328,420,512,604,696} \draw[black, line width=0.8pt] (730,\yy) -- (785,\yy);
  % value tags
  \node[tag, fill=black] at (731,57.4) {6,966.28};
  \node[tag, fill=cblue] at (731,260) {90.32};
  \node[tag, fill=sgreen] at (731,352.3) {};
  \node[tag, fill=cblue] at (731,349.7) {93.55};
  \node[tag, fill=sgreen] at (731,444.3) {};
  \node[tag, fill=cblue] at (731,441.7) {93.55};
  \node[tag, fill=black] at (731,536.3) {};
  \node[tag, fill=cblue] at (731,533.7) {93.55};
  \node[tag, fill=cblue] at (731,628) {90.32};
  % source
  \node[anchor=west, inner sep=0pt, font=\fontsize{13}{14}\selectfont] at (2,720) {Source: S\&P and CRSP};
\end{scope}
\end{tikzpicture}
\end{document}
